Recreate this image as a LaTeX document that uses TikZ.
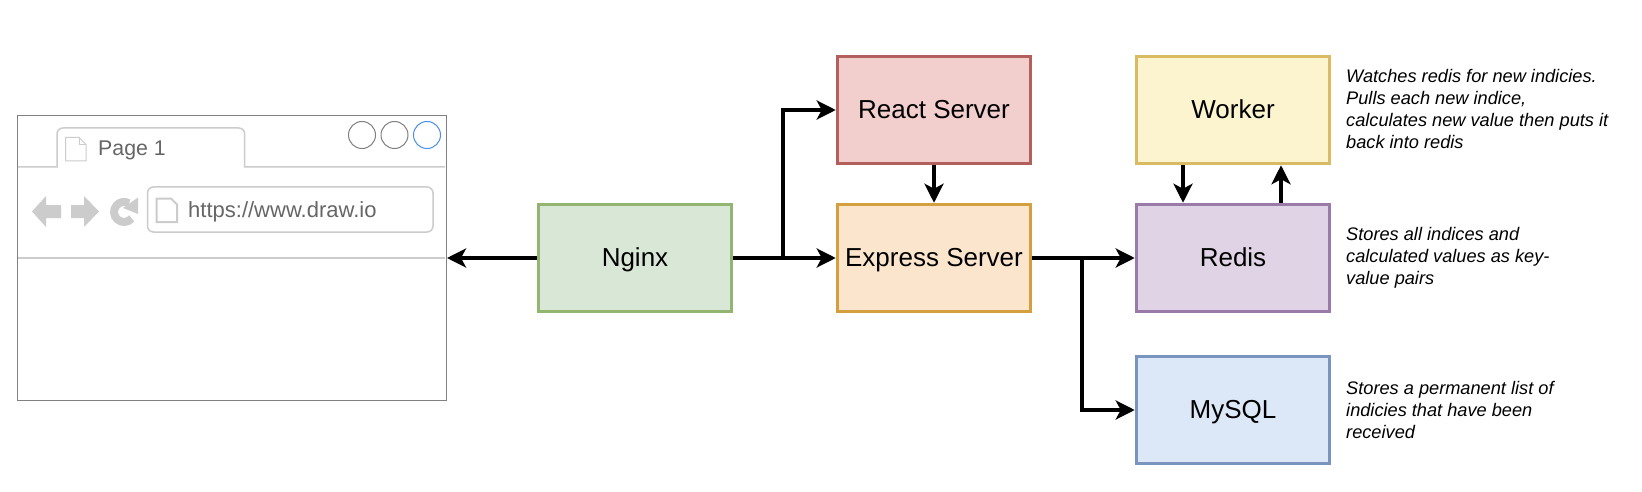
\documentclass[tikz,border=0pt]{standalone}
\usepackage{fontspec}
\setmainfont{Liberation Sans}
\usetikzlibrary{arrows.meta}

\definecolor{chromegray}{HTML}{CCCCCC}
\definecolor{framegray}{HTML}{808080}
\definecolor{labelgray}{HTML}{666666}
\definecolor{dotblue}{HTML}{4A90E8}

\begin{document}
\begin{tikzpicture}[x=1pt,y=1pt]
\tikzstyle{srvbox}=[draw,line width=3pt,minimum width=193.5pt,minimum height=107.5pt,inner sep=0pt,text height=17pt,text depth=0pt,text=black,font=\fontsize{26}{30}\selectfont]
\tikzstyle{conn}=[black,line width=4pt,-{Stealth[length=19pt,width=19pt,inset=5pt]}]
\tikzstyle{note}=[anchor=west,align=left,inner sep=0pt,font=\fontsize{18.2}{22}\selectfont\itshape]
\tikzstyle{chrome}=[draw=chromegray,line width=1.5pt]
\tikzstyle{browsertext}=[anchor=west,inner sep=0pt,text height=14pt,text depth=0pt,text=labelgray,font=\fontsize{22}{26}\selectfont]
\useasboundingbox (0,0) rectangle (1642,-492);
% browser window
\node [draw=framegray,line width=1pt,fill=white,minimum width=429pt,minimum height=285pt,inner sep=0pt] (browser) at (232,-258) {};
\draw [chrome] (18,-167) -- (57,-167) [rounded corners=6pt] -- (57,-128) -- (244.7,-128) [sharp corners] -- (244.7,-167) -- (445,-167);
\draw [chromegray,line width=1.5pt] (18,-258) -- (445,-258);
\draw [framegray,line width=1pt] (362,-135) circle (13.5pt);
\draw [framegray,line width=1pt] (394.5,-135) circle (13.5pt);
\draw [dotblue,line width=1pt] (427,-135) circle (13.5pt);
\draw [chrome,line width=1pt] (65.5,-137.5) -- (79,-137.5) -- (86,-144.5) -- (86,-161) -- (65.5,-161) -- cycle;
\draw [chrome,line width=1pt] (79,-137.5) -- (79,-144.5) -- (86,-144.5);
\node [browsertext,font=\fontsize{21.3}{26}\selectfont] (pagelabel) at (98,-149) {Page 1};
\draw [chrome,rounded corners=6pt] (147.5,-187) rectangle (433,-232);
\draw [chrome,line width=2pt] (156.5,-198.5) -- (171,-198.5) -- (177,-204.5) -- (177,-222) -- (156.5,-222) -- cycle;
\node [browsertext] (urllabel) at (188,-210) {https://www.draw.io};
% back, forward, reload
\fill [chromegray] (32,-211.5) -- (46,-196) -- (46,-205) -- (61,-205) -- (61,-218) -- (46,-218) -- (46,-227) -- cycle;
\fill [chromegray] (99,-211.5) -- (84,-196) -- (84,-205) -- (71,-205) -- (71,-218) -- (84,-218) -- (84,-227) -- cycle;
\draw [chromegray,line width=8pt] (131.7,-218.4) arc (-40:-300:10);
\fill [chromegray] (138,-197.5) -- (138,-214) -- (123,-208) -- cycle;
% servers
\node [srvbox,fill={rgb,255:red,217;green,231;blue,214},draw={rgb,255:red,146;green,182;blue,114}] (nginx) at (635,-258) {Nginx};
\node [srvbox,fill={rgb,255:red,242;green,207;blue,205},draw={rgb,255:red,179;green,96;blue,92}] (react) at (934,-110) {React Server};
\node [srvbox,fill={rgb,255:red,251;green,229;blue,205},draw={rgb,255:red,212;green,160;blue,63}] (express) at (934,-258) {Express Server};
\node [srvbox,fill={rgb,255:red,252;green,243;blue,207},draw={rgb,255:red,216;green,187;blue,99}] (worker) at (1233,-110) {Worker};
\node [srvbox,fill={rgb,255:red,225;green,211;blue,230},draw={rgb,255:red,154;green,122;blue,168}] (redis) at (1233,-258) {Redis};
\node [srvbox,fill={rgb,255:red,220;green,231;blue,248},draw={rgb,255:red,122;green,148;blue,192}] (mysql) at (1233,-410) {MySQL};
% notes
\node [note] (workernote) at (1346,-109) {Watches redis for new indicies.\\Pulls each new indice,\\calculates new value then puts it\\back into redis};
\node [note] (redisnote) at (1346,-258) {Stores all indices and\\calculated values as key-\\value pairs};
\node [note] (mysqlnote) at (1346,-410) {Stores a permanent list of\\indicies that have been\\received};
% connectors
\coordinate (nginxsplit) at (782.7,-258);
\coordinate (expresssplit) at (1082,-258);
\draw [conn] (nginx) -- (browser);
\draw [conn] (nginx) -- (express);
\draw [conn] (nginxsplit) |- (react);
\draw [conn] (react) -- (express);
\draw [conn] (express) -- (redis);
\draw [conn] (expresssplit) |- (mysql);
\draw [conn] ([xshift=-50pt]worker.south) -- ([xshift=-50pt]redis.north);
\draw [conn] ([xshift=48pt]redis.north) -- ([xshift=48pt]worker.south);
\end{tikzpicture}
\end{document}
